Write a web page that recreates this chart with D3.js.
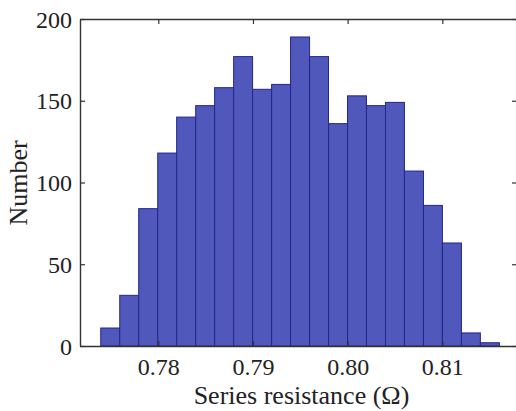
<!DOCTYPE html>
<html>
<head>
<meta charset="utf-8">
<script src="https://cdn.jsdelivr.net/npm/d3@7"></script>
<style>
  html, body { margin: 0; padding: 0; background: #fff; }
</style>
</head>
<body>
<svg id="chart" width="516" height="411"></svg>
<script>
// Histogram bin edges (Ω) and counts per bin
const binEdges = [0.77392, 0.77593, 0.77793, 0.77994, 0.78194, 0.78395, 0.78595,
                  0.78796, 0.78996, 0.79197, 0.79397, 0.79598, 0.79798, 0.79999,
                  0.80199, 0.80400, 0.80600, 0.80801, 0.81001, 0.81202, 0.81402, 0.81603];
const counts = [11, 31, 84, 118, 140, 147, 158, 177, 157, 160, 189,
                177, 136, 153, 147, 149, 107, 86, 63, 8, 2];
const xTicks = [0.78, 0.79, 0.80, 0.81];
const yTicks = [0, 50, 100, 150, 200];
const xLabel = "Series resistance (Ω)";
const yLabel = "Number";

const serif = "'Liberation Serif', 'Times New Roman', serif";
const svg = d3.select("#chart");
const plotLeft = 80, plotRight = 517, plotTop = 19, plotBottom = 346;

const x = d3.scaleLinear().domain([0.77173, 0.81789]).range([plotLeft, plotRight]);
const y = d3.scaleLinear().domain([0, 200]).range([plotBottom, plotTop]);

const bins = counts.map((c, i) => ({ x0: binEdges[i], x1: binEdges[i + 1], n: c }));

// bars
svg.append("g")
  .selectAll("rect")
  .data(bins)
  .join("rect")
  .attr("x", d => x(d.x0))
  .attr("width", d => x(d.x1) - x(d.x0))
  .attr("y", d => y(d.n))
  .attr("height", d => y(0) - y(d.n))
  .attr("fill", "#5058bb")
  .attr("stroke", "#23268a")
  .attr("stroke-width", 1);

const axisColor = "#333";
const tickLen = 5;

// bottom axis (ticks inward) with labels
const gx = svg.append("g").attr("transform", `translate(0,${plotBottom})`)
  .call(d3.axisBottom(x).tickValues(xTicks).tickFormat(d3.format(".2f"))
        .tickSizeInner(-tickLen).tickSizeOuter(0).tickPadding(12));
// top axis (ticks only)
const gxt = svg.append("g").attr("transform", `translate(0,${plotTop})`)
  .call(d3.axisTop(x).tickValues(xTicks).tickFormat("")
        .tickSizeInner(-tickLen).tickSizeOuter(0));
// left axis with labels
const gy = svg.append("g").attr("transform", `translate(${plotLeft},0)`)
  .call(d3.axisLeft(y).tickValues(yTicks).tickFormat(d3.format("d"))
        .tickSizeInner(-tickLen).tickSizeOuter(0).tickPadding(8));
// right axis (ticks only)
const gyr = svg.append("g").attr("transform", `translate(${plotRight},0)`)
  .call(d3.axisRight(y).tickValues(yTicks).tickFormat("")
        .tickSizeInner(-tickLen).tickSizeOuter(0));

[gx, gxt, gy, gyr].forEach(g => {
  g.attr("font-family", null).attr("font-size", null);
  g.select(".domain").attr("stroke", axisColor).attr("stroke-width", 1.4);
  g.selectAll(".tick line").attr("stroke", axisColor).attr("stroke-width", 1.2);
  g.selectAll("text")
    .style("font-family", serif)
    .style("font-size", "24px")
    .attr("fill", "#222");
});
gx.selectAll(".tick text").attr("dy", "0.71em");
gy.selectAll(".tick text").attr("dy", "0.34em");

// axis titles
svg.append("text")
  .attr("x", (plotLeft + plotRight) / 2 + 3)
  .attr("y", 404)
  .attr("text-anchor", "middle")
  .style("font-family", serif)
  .style("font-size", "26px")
  .attr("fill", "#222")
  .text(xLabel);

svg.append("text")
  .attr("transform", "translate(27,183) rotate(-90)")
  .attr("text-anchor", "middle")
  .style("font-family", serif)
  .style("font-size", "26px")
  .attr("fill", "#222")
  .text(yLabel);
</script>
</body>
</html>
